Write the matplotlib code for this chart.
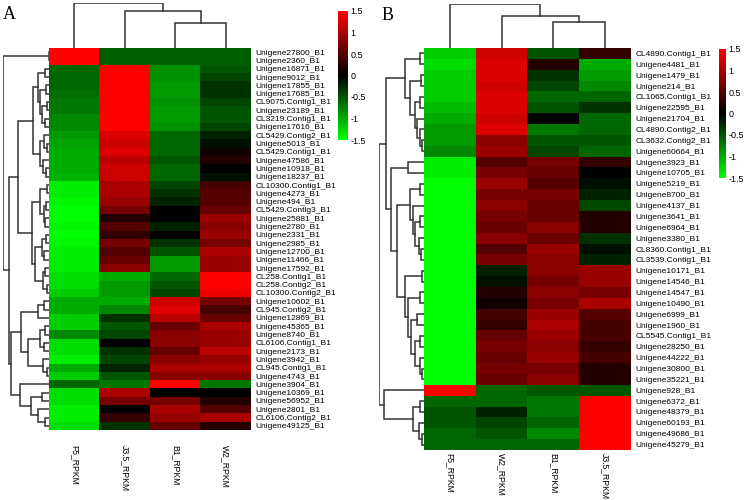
import matplotlib.pyplot as plt
import numpy as np
from matplotlib.colors import LinearSegmentedColormap

plt.rcParams['font.family'] = ['Liberation Sans', 'DejaVu Sans']
plt.rcParams['axes.unicode_minus'] = False

# ---------------- 数据 A ----------------
cols_a = ['F5_RPKM', 'J3.5_RPKM', 'B1_RPKM', 'W2_RPKM']
genes_a = ['Unigene27800_B1', 'Unigene2360_B1', 'Unigene16871_B1', 'Unigene9012_B1',
           'Unigene17855_B1', 'Unigene17685_B1', 'CL9075.Contig1_B1', 'Unigene23189_B1',
           'CL3219.Contig1_B1', 'Unigene17616_B1', 'CL5429.Contig2_B1', 'Unigene5013_B1',
           'CL5429.Contig1_B1', 'Unigene47586_B1', 'Unigene10918_B1', 'Unigene18237_B1',
           'CL10300.Contig1_B1', 'Unigene4273_B1', 'Unigene494_B1', 'CL5429.Contig3_B1',
           'Unigene25881_B1', 'Unigene2780_B1', 'Unigene2331_B1', 'Unigene2985_B1',
           'Unigene12700_B1', 'Unigene11466_B1', 'Unigene17592_B1', 'CL258.Contig1_B1',
           'CL258.Contig2_B1', 'CL10300.Contig2_B1', 'Unigene10602_B1', 'CL945.Contig2_B1',
           'Unigene12869_B1', 'Unigene45365_B1', 'Unigene8740_B1', 'CL6106.Contig1_B1',
           'Unigene2173_B1', 'Unigene3942_B1', 'CL945.Contig1_B1', 'Unigene4743_B1',
           'Unigene3904_B1', 'Unigene10369_B1', 'Unigene56952_B1', 'Unigene2801_B1',
           'CL6106.Contig2_B1', 'Unigene49125_B1']
f5_a = [1.5, 1.5, -0.6, -0.6, -0.6, -0.65, -0.7, -0.7, -0.8, -0.8, -0.9, -0.95, -1.0, -1.0, -1.0, -1.05,
        -1.4, -1.4, -1.45, -1.5, -1.5, -1.45, -1.5, -1.45, -1.4, -1.4, -1.4, -1.3, -1.3, -1.2,
        -1.0, -1.0, -1.2, -1.2, -0.8, -1.3, -1.3, -1.4, -1.0, -1.2,
        -0.6, -1.3, -1.3, -1.4, -1.4, -1.3]
j35_a = [-0.55, -0.55, 1.5, 1.5, 1.5, 1.5, 1.5, 1.5, 1.5, 1.5, 1.3, 1.2, 1.3, 1.1, 1.2, 1.2,
         1.0, 1.0, 0.9, 0.7, 0.2, 0.5, 0.3, 0.7, 0.5, 0.6, 0.8, -1.0, -0.9, -0.9,
         -1.0, -0.8, -0.3, -0.5, -0.4, 0.0, -0.3, -0.4, -0.2, -0.5,
         -0.7, 1.0, 0.7, 0.0, 0.3, -0.3]
b1_a = [-0.55, -0.55, -0.85, -0.85, -0.9, -0.9, -0.85, -0.9, -0.9, -0.85, -0.6, -0.6, -0.6, -0.5, -0.6, -0.6,
        -0.4, -0.3, -0.2, 0.0, 0.0, -0.2, 0.0, -0.3, -0.5, -0.9, -0.9, -0.6, -0.5, -0.4,
        1.2, 1.3, 1.1, 0.6, 0.8, 0.8, 0.6, 0.8, 1.0, 0.8,
        1.5, 0.0, 0.7, 1.0, 0.9, 0.6]
w2_a = [-0.55, -0.55, -0.5, -0.4, -0.3, -0.3, -0.4, -0.5, -0.5, -0.4, -0.2, -0.1, 0.1, 0.2, 0.0, -0.1,
        0.4, 0.5, 0.5, 0.6, 0.9, 0.8, 0.9, 0.7, 1.0, 0.9, 0.9, 1.5, 1.5, 1.4,
        0.7, 0.4, 0.6, 1.0, 0.9, 0.9, 1.1, 0.9, 1.0, 0.8,
        -0.7, 0.0, 0.2, 0.5, 1.0, 0.2]

# 行聚类树 A: [高度, 左, 右], 叶子为行号
tree_rows_a = [1.0, [0.005, 0, 1],
               [0.88,
                [0.68,
                 [0.35,
                  [0.25, [0.08, 2, 3], [0.2, [0.06, 4, 5], [0.15, [0.05, 6, 7], [0.08, 8, 9]]]],
                  [0.2, [0.1, 10, [0.05, 11, 12]], [0.12, 13, [0.06, 14, 15]]]],
                 [0.375,
                  [0.2, [0.05, 16, 17], [0.1, [0.06, 18, 19], [0.08, 20, 21]]],
                  [0.3, [0.15, [0.06, 22, 23], [0.1, 24, 25]], [0.12, [0.08, 26, 27], [0.05, 28, 29]]]]],
                [0.82,
                 [0.61, [0.25, [0.1, 30, 31], 32],
                  [0.45, [0.2, [0.08, 33, 34], [0.1, 35, 36]], [0.12, 37, [0.05, 38, 39]]]],
                 [0.63, 40, [0.4, [0.15, 41, 42], [0.25, 43, [0.08, 44, 45]]]]]]]
tree_cols_a = [1.0, 0, [0.82, 1, [0.55, 2, 3]]]

# ---------------- 数据 B ----------------
cols_b = ['F5_RPKM', 'W2_RPKM', 'B1_RPKM', 'J3.5_RPKM']
genes_b = ['CL4890.Contig1_B1', 'Unigene4481_B1', 'Unigene1479_B1', 'Unigene214_B1',
           'CL1065.Contig1_B1', 'Unigene22595_B1', 'Unigene21704_B1', 'CL4890.Contig2_B1',
           'CL3632.Contig2_B1', 'Unigene60664_B1', 'Unigene3923_B1', 'Unigene10705_B1',
           'Unigene5219_B1', 'Unigene8700_B1', 'Unigene4137_B1', 'Unigene3641_B1',
           'Unigene6964_B1', 'Unigene3380_B1', 'CL8360.Contig1_B1', 'CL3539.Contig1_B1',
           'Unigene10171_B1', 'Unigene14546_B1', 'Unigene14547_B1', 'Unigene10490_B1',
           'Unigene6999_B1', 'Unigene1960_B1', 'CL5545.Contig1_B1', 'Unigene28250_B1',
           'Unigene44222_B1', 'Unigene30800_B1', 'Unigene35221_B1', 'Unigene928_B1',
           'Unigene6372_B1', 'Unigene48379_B1', 'Unigene60193_B1', 'Unigene49686_B1',
           'Unigene45279_B1']
f5_b = [-1.2, -1.3, -1.2, -1.2, -1.2, -1.1, -1.0, -0.9, -0.9, -0.8,
        -1.4, -1.4, -1.5, -1.5, -1.5, -1.5, -1.5, -1.5, -1.5, -1.5,
        -1.5, -1.5, -1.5, -1.5, -1.5, -1.5, -1.5, -1.5, -1.5, -1.5, -1.5,
        1.5, -0.6, -0.5, -0.5, -0.6, -0.6]
w2_b = [1.2, 1.3, 1.3, 1.2, 1.3, 1.3, 1.2, 1.3, 0.8, 0.9,
        0.5, 0.7, 0.9, 0.7, 0.8, 0.7, 0.6, 0.8, 0.5, 0.7,
        -0.2, -0.1, 0.2, 0.1, 0.4, 0.3, 0.6, 0.7, 0.6, 0.7, 0.6,
        -0.6, -0.6, -0.2, -0.4, -0.5, -0.6]
b1_b = [-0.5, 0.2, -0.3, -0.4, -0.6, -0.5, 0.0, -0.7, -0.5, -0.4,
        0.7, 0.6, 0.5, 0.7, 0.6, 0.6, 0.8, 0.6, 0.9, 0.8,
        0.8, 0.7, 0.8, 0.7, 0.9, 1.0, 0.9, 0.8, 0.9, 0.7, 0.8,
        -0.5, -0.7, -0.7, -0.6, -0.8, -0.6]
j35_b = [0.3, -1.0, -0.9, -0.8, -0.6, -0.3, -0.6, -0.6, -0.5, -0.6,
         0.3, 0.0, -0.1, -0.2, -0.4, 0.2, 0.2, -0.3, -0.1, -0.2,
         0.9, 0.9, 0.7, 1.0, 0.5, 0.4, 0.4, 0.3, 0.4, 0.2, 0.2,
         -0.5, 1.5, 1.5, 1.5, 1.5, 1.5]

tree_rows_b = [1.0,
               [0.84,
                [0.42, [0.09, 0, 1],
                 [0.31, [0.06, 2, 3], [0.2, [0.08, 4, 5], [0.15, 6, [0.1, 7, [0.05, 8, 9]]]]]],
                [0.73, [0.35, 10, 11],
                 [0.59,
                  [0.31, [0.1, 12, 13], [0.25, 14, [0.2, [0.08, 15, 16], [0.12, 17, [0.06, 18, 19]]]]],
                  [0.42, [0.05, 20, 21],
                   [0.35, [0.1, 22, 23],
                    [0.3, [0.15, 24, 25], [0.2, [0.08, 26, 27], [0.1, 28, [0.05, 29, 30]]]]]]]]],
               [0.89, 31, [0.24, [0.1, 32, 33], [0.12, 34, [0.05, 35, 36]]]]]
tree_cols_b = [1.0, 0, [0.73, 1, [0.59, 2, 3]]]

# ---------------- 画图 ----------------
W, H = 748, 500
fig = plt.figure(figsize=(W / 100, H / 100), dpi=100)
cmap = LinearSegmentedColormap.from_list('gkr', ['#00ff00', '#000000', '#ff0000'])


def px_axes(x0, y0, x1, y1):
    # 像素坐标(左上为原点) -> figure 坐标
    return fig.add_axes([x0 / W, 1 - y1 / H, (x1 - x0) / W, (y1 - y0) / H])


def draw_tree(ax, node, side):
    if isinstance(node, int):
        return node + 0.5, 0.0
    h, left, right = node
    p1, h1 = draw_tree(ax, left, side)
    p2, h2 = draw_tree(ax, right, side)
    if side == 'left':
        ax.plot([h1, h, h, h2], [p1, p1, p2, p2], color='#333333', lw=1.1, solid_joinstyle='miter')
    else:
        ax.plot([p1, p1, p2, p2], [h1, h, h, h2], color='#333333', lw=1.1, solid_joinstyle='miter')
    return (p1 + p2) / 2, h


def panel(vals, genes, cols, trow, tcol, hm, rd, cd, cb, letter, lpos, xpad):
    n = len(genes)
    ax = px_axes(*hm)
    im = ax.imshow(vals, aspect='auto', cmap=cmap, vmin=-1.5, vmax=1.5,
                   interpolation='nearest', extent=(0, 4, n, 0))
    ax.set_xlim(0, 4)
    ax.set_ylim(n, 0)
    ax.yaxis.tick_right()
    ax.set_yticks(np.arange(n) + 0.5)
    ax.set_yticklabels(genes, fontsize=6)
    ax.set_xticks(np.arange(4) + 0.5)
    ax.set_xticklabels(cols, fontsize=6.2, rotation=270)
    ax.tick_params(axis='y', length=0, pad=3)
    ax.tick_params(axis='x', length=0, pad=xpad)
    for s in ax.spines.values():
        s.set_visible(False)

    axr = px_axes(*rd)
    draw_tree(axr, trow, 'left')
    axr.set_xlim(1.0, 0)
    axr.set_ylim(n, 0)
    axr.axis('off')

    axc = px_axes(*cd)
    draw_tree(axc, tcol, 'top')
    axc.set_xlim(0, 4)
    axc.set_ylim(0, 1.0)
    axc.axis('off')

    cax = px_axes(*cb)
    cbar = fig.colorbar(im, cax=cax, ticks=[1.5, 1, 0.5, 0, -0.5, -1, -1.5])
    cbar.ax.set_yticklabels(['1.5', '1', '0.5', '0', '-0.5', '-1', '-1.5'])
    cbar.ax.tick_params(length=0, labelsize=6.5, pad=2)
    cbar.outline.set_visible(False)

    fig.text(lpos[0] / W, 1 - lpos[1] / H, letter, fontsize=13,
             family=['Liberation Serif', 'DejaVu Serif'], va='baseline')


vals_a = np.array([f5_a, j35_a, b1_a, w2_a]).T
vals_b = np.array([f5_b, w2_b, b1_b, j35_b]).T

panel(vals_a, genes_a, cols_a, tree_rows_a, tree_cols_a,
      hm=(49, 48, 251, 430), rd=(3, 48, 49, 430), cd=(49, 3, 251, 48),
      cb=(338, 11, 348, 140), letter='A', lpos=(3, 19), xpad=11)
panel(vals_b, genes_b, cols_b, tree_rows_b, tree_cols_b,
      hm=(424, 48, 631, 450), rd=(379, 48, 424, 450), cd=(424, 4, 631, 48),
      cb=(719, 49, 726, 178), letter='B', lpos=(382, 20), xpad=2)

fig.savefig('out.png', dpi=100, facecolor='white')
